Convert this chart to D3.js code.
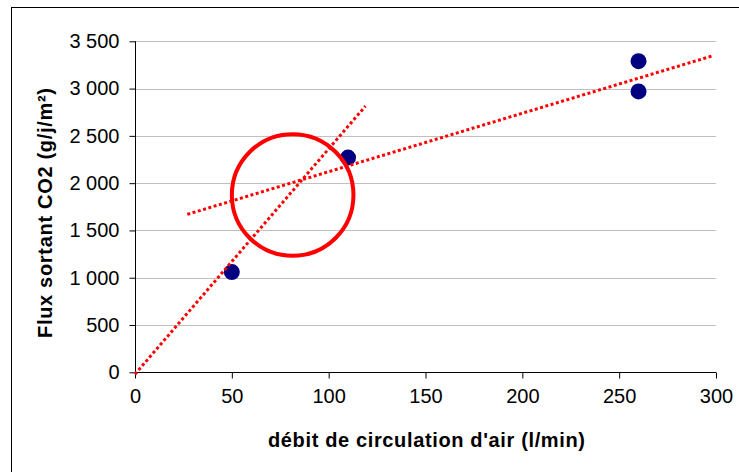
<!DOCTYPE html>
<html>
<head>
<meta charset="utf-8">
<script src="https://cdn.jsdelivr.net/npm/d3@7"></script>
<style>
  body { margin: 0; background: #fff; }
  svg { display: block; }
</style>
</head>
<body>
<svg id="chart"></svg>
<script>
// mesures
const debit = [50, 110, 260, 260];
const flux = [1060, 2270, 3290, 2970];

// courbes de tendance (bouts)
const trend1 = [[0, -20], [119, 2815]];
const trend2 = [[27, 1670], [298, 3345]];

// cercle (centre + rayon en l/min)
const circle = {x: 81.4, y: 1875, r: 31.4};

const xTicks = [0, 50, 100, 150, 200, 250, 300];
const yTicks = [0, 500, 1000, 1500, 2000, 2500, 3000, 3500];

const width = 739, height = 472;
const fontFamily = "'Liberation Sans', Arial, sans-serif";

let svg = d3.select("#chart")
    .attr("width", width)
    .attr("height", height);

// cadre
svg.append("rect")
    .attr("x", 11.5)
    .attr("y", 7.5)
    .attr("width", width)
    .attr("height", height)
    .attr("fill", "#fff")
    .attr("stroke", "#000")
    .attr("stroke-width", 1);

let x = d3.scaleLinear().domain([0, 300]).range([135, 716]);
let y = d3.scaleLinear().domain([0, 3500]).range([372.3, 41.3]);

// grille
svg.append("g")
    .selectAll("line")
    .data(yTicks.filter(d => d > 0))
    .enter()
    .append("line")
    .attr("x1", x(0))
    .attr("x2", x(300))
    .attr("y1", d => Math.round(y(d)) + 0.5)
    .attr("y2", d => Math.round(y(d)) + 0.5)
    .attr("stroke", "#c0c0c0")
    .attr("stroke-width", 1);

// axe y
let yAxis = d3.axisLeft(y)
    .tickValues(yTicks)
    .tickSize(6)
    .tickPadding(10)
    .tickFormat(d => d3.format(",")(d).replace(",", " "));
svg.append("g")
    .attr("transform", `translate(${x(0) + 0.5}, 0)`)
    .call(yAxis)
    .call(g => g.selectAll("text").attr("fill", "#000"))
    .call(g => g.selectAll("line").attr("stroke", "#000"))
    .call(g => g.select(".domain").attr("d", `M0,${y(3500)}V${y(0)}`).attr("stroke", "#000"))
    .attr("font-family", fontFamily)
    .attr("font-size", 20);

// axe x
let xAxis = d3.axisBottom(x)
    .tickValues(xTicks)
    .tickSize(6)
    .tickPadding(10);
svg.append("g")
    .attr("transform", `translate(0, ${Math.round(y(0)) + 0.5})`)
    .call(xAxis)
    .call(g => g.selectAll("text").attr("fill", "#000"))
    .call(g => g.selectAll("line").attr("stroke", "#000"))
    .call(g => g.select(".domain").attr("d", `M${x(0)},0H${x(300)}`).attr("stroke", "#000"))
    .attr("font-family", fontFamily)
    .attr("font-size", 20);

// points
svg.append("g")
    .selectAll("circle")
    .data(debit.map((d, i) => [d, flux[i]]))
    .enter()
    .append("circle")
    .attr("cx", d => x(d[0]))
    .attr("cy", d => y(d[1]))
    .attr("r", 8)
    .attr("fill", "#000080");

// tendances
let line = d3.line().x(d => x(d[0])).y(d => y(d[1]));
[trend1, trend2].forEach(t => {
    svg.append("path")
        .attr("d", line(t))
        .attr("fill", "none")
        .attr("stroke", "#ff0000")
        .attr("stroke-width", 3)
        .attr("stroke-dasharray", "3 2.5");
});

// cercle rouge
svg.append("circle")
    .attr("cx", x(circle.x))
    .attr("cy", y(circle.y))
    .attr("r", x(circle.r) - x(0))
    .attr("fill", "none")
    .attr("stroke", "#ff0000")
    .attr("stroke-width", 4);

// titres
svg.append("text")
    .attr("x", 426.5)
    .attr("y", 447)
    .attr("text-anchor", "middle")
    .attr("font-family", fontFamily)
    .attr("font-weight", "bold")
    .attr("font-size", 20)
    .attr("textLength", 317)
    .attr("lengthAdjust", "spacing")
    .text("débit de circulation d'air (l/min)");

svg.append("text")
    .attr("transform", "translate(52, 213) rotate(-90)")
    .attr("text-anchor", "middle")
    .attr("font-family", fontFamily)
    .attr("font-weight", "bold")
    .attr("font-size", 20)
    .attr("textLength", 250)
    .attr("lengthAdjust", "spacing")
    .text("Flux sortant CO2 (g/j/m²)");
</script>
</body>
</html>
